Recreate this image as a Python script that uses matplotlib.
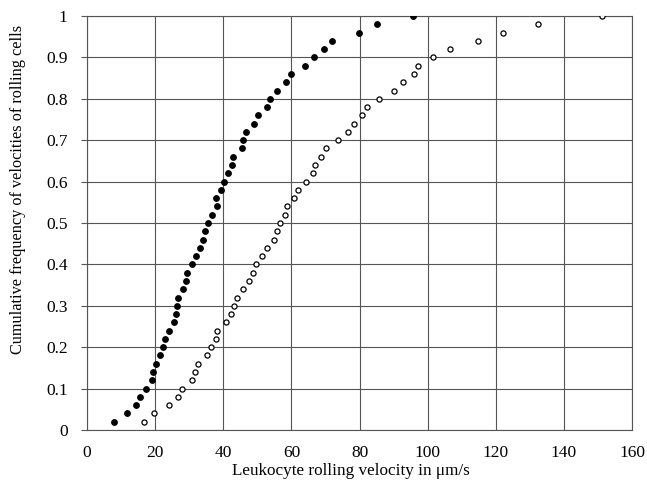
import numpy as np
import matplotlib.pyplot as plt

plt.rcParams['font.family'] = ['Liberation Serif', 'DejaVu Serif']

# cumulative frequency levels (same for both series)
freq = np.round(np.arange(1, 51) * 0.02, 2)

# filled circles
vel_filled = [8.0, 11.7, 14.4, 15.7, 17.2, 19.1, 19.5, 20.3, 21.5, 22.3,
              23.0, 24.0, 25.6, 26.0, 26.5, 26.6, 28.1, 29.2, 29.4, 30.8,
              32.0, 33.1, 34.1, 34.5, 35.6, 36.6, 38.1, 38.0, 39.2, 40.3,
              41.3, 42.7, 43.0, 45.5, 45.7, 46.6, 49.1, 50.3, 52.7, 53.7,
              55.8, 58.4, 59.8, 63.9, 66.5, 69.6, 71.8, 79.9, 85.0, 95.6]

# open circles
vel_open = [16.7, 19.8, 24.2, 26.6, 27.9, 30.9, 31.6, 32.6, 35.3, 36.5,
            37.9, 38.3, 40.9, 42.3, 43.2, 44.1, 45.7, 47.7, 48.6, 49.5,
            51.3, 52.8, 54.9, 55.8, 56.8, 58.2, 58.7, 60.7, 61.9, 64.2,
            66.4, 66.8, 68.7, 70.1, 73.6, 76.5, 78.3, 80.6, 82.2, 85.8,
            90.0, 92.8, 95.9, 97.2, 101.6, 106.5, 114.9, 122.0, 132.3, 151.1]

x_ticks = list(range(0, 161, 20))
y_ticks = [round(v * 0.1, 1) for v in range(11)]
y_labels = ['0', '0.1', '0.2', '0.3', '0.4', '0.5', '0.6', '0.7', '0.8', '0.9', '1']

fig = plt.figure(figsize=(6.47, 4.84), dpi=100)
ax = fig.add_axes([0.1345, 0.1116, 0.8423, 0.8553])

ax.plot(vel_filled, freq, 'o', color='black', markersize=3.9, zorder=3)
ax.plot(vel_open, freq, 'o', markerfacecolor='white', markeredgecolor='black',
        markersize=3.7, markeredgewidth=0.9, zorder=3)

ax.set_xlim(0, 160)
ax.set_ylim(0, 1)
ax.set_xticks(x_ticks)
ax.set_yticks(y_ticks)
ax.set_yticklabels(y_labels)
ax.grid(True, color='#555555', linewidth=0.8)
ax.set_axisbelow(True)
for s in ax.spines.values():
    s.set_color('#555555')
    s.set_linewidth(0.8)
ax.tick_params(axis='y', length=4, width=0.8, color='#555555', labelsize=12.5, pad=10)
ax.tick_params(axis='x', length=0, labelsize=12.5, pad=11)

ax.set_xlabel('Leukocyte rolling velocity in μm/s', fontsize=12.3)
ax.xaxis.set_label_coords(0.484, -0.08)
ax.set_ylabel('Cumulative frequency of velocities of rolling cells', fontsize=11.7)
ax.yaxis.set_label_coords(-0.112, 0.582)

fig.savefig('out.png', dpi=100)
